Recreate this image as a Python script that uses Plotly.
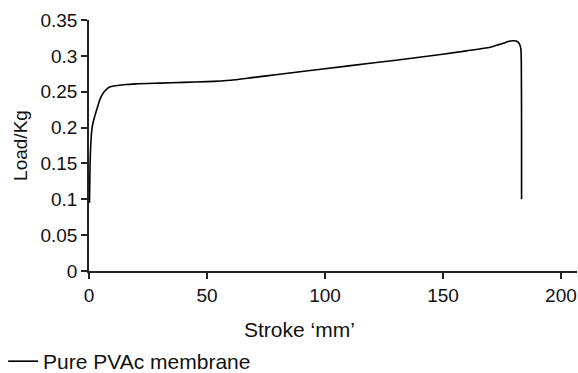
import plotly.graph_objects as go

stroke_mm = [0.2, 0.4, 0.6, 0.9, 1.2, 1.6, 2.2, 3.0, 4.0, 5.0, 6.0, 7.0, 8.0, 9.0, 10.5, 13, 16, 20, 30, 40, 50,
             56, 60, 70, 80, 100, 120, 140, 160, 170, 174, 176, 178, 180, 181.5, 182.5, 183.0, 183.2, 183.3, 183.3]
load_kg = [0.095, 0.14, 0.165, 0.185, 0.197, 0.205, 0.213, 0.222, 0.233, 0.242, 0.248, 0.252, 0.255, 0.257,
           0.258, 0.259, 0.26, 0.261, 0.262, 0.263, 0.264,
           0.265, 0.266, 0.27, 0.274, 0.282, 0.29, 0.298, 0.307, 0.312, 0.316, 0.318, 0.3205, 0.321, 0.32,
           0.316, 0.31, 0.29, 0.2, 0.1]

x_ticks = [0, 50, 100, 150, 200]
y_ticks = [0, 0.05, 0.1, 0.15, 0.2, 0.25, 0.3, 0.35]
y_tick_text = ["0", "0.05", "0.1", "0.15", "0.2", "0.25", "0.3", "0.35"]

FONT = "Liberation Sans, Arial, sans-serif"

fig = go.Figure()
fig.add_trace(go.Scatter(
    x=stroke_mm, y=load_kg, mode="lines", name="Pure PVAc membrane",
    line=dict(color="black", width=1.6, shape="spline", smoothing=0.6),
))

fig.add_annotation(text="Stroke ‘mm’", xref="paper", yref="paper", x=0.431, y=-0.235,
                   xanchor="center", yanchor="middle", showarrow=False,
                   font=dict(family=FONT, size=21, color="#111"))

fig.update_layout(
    width=578, height=373,
    margin=dict(l=89, r=1, t=20, b=102, autoexpand=False),
    paper_bgcolor="white", plot_bgcolor="white",
    font=dict(family=FONT, size=19, color="#111"),
    showlegend=True,
    legend=dict(orientation="h", x=-0.176, xanchor="left", y=-0.279, yanchor="top",
                font=dict(family=FONT, size=21, color="#111"),
                itemwidth=30, tracegroupgap=0, bgcolor="rgba(0,0,0,0)"),
    xaxis=dict(range=[0, 206.8], tickvals=x_ticks, showgrid=False, zeroline=False, automargin=False,
               showline=True, linecolor="#222", linewidth=1.5,
               ticks="outside", ticklen=6, tickwidth=1.5, tickcolor="#222"),
    yaxis=dict(range=[0, 0.35], tickvals=y_ticks, ticktext=y_tick_text, showgrid=False, zeroline=False,
               automargin=False,
               showline=True, linecolor="#222", linewidth=1.5,
               ticks="outside", ticklen=6, tickwidth=1.5, tickcolor="#222",
               title=dict(text="Load/Kg", standoff=8, font=dict(size=19))),
)

fig.write_html("out.html")
